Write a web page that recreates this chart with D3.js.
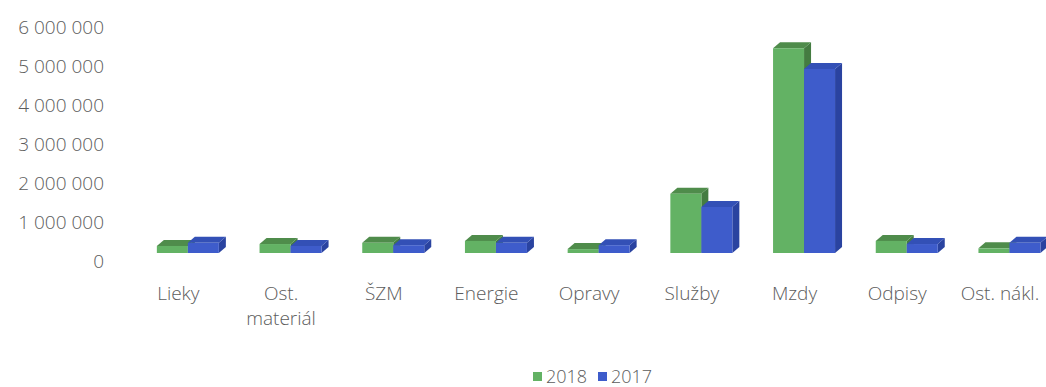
<!DOCTYPE html>
<html><head><meta charset="utf-8">
<script src="https://cdn.jsdelivr.net/npm/d3@7"></script>
<style>
body{margin:0;background:#fff;}
svg text{font-family:"Open Sans",sans-serif;font-weight:300;fill:#5c5c5c;}
</style>
</head><body>
<svg id="chart" width="1046" height="387"></svg>
<script>
const categories = ["Lieky", "Ost.\nmateriál", "ŠZM", "Energie", "Opravy", "Služby", "Mzdy", "Odpisy", "Ost. nákl."];
const seriesNames = ["2018", "2017"];
const values2018 = [180000, 230000, 260000, 310000, 100000, 1520000, 5250000, 310000, 120000];
const values2017 = [260000, 180000, 200000, 260000, 200000, 1180000, 4720000, 230000, 260000];
const yTickValues = [0, 1000000, 2000000, 3000000, 4000000, 5000000, 6000000];
const seriesColors = {
  "2018": {front: "#63b264", top: "#4f8c4b", side: "#447c41"},
  "2017": {front: "#3e5ccb", top: "#3350b6", side: "#2a43a0"}
};

const svg = d3.select("#chart");
const band = 102.7;
const x = d3.scaleBand().domain(categories).range([127, 127 + band * categories.length]).padding(0);
const xs = d3.scaleBand().domain(seriesNames).range([-31, 31]).padding(0);
const y = d3.scaleLinear().domain([0, 6000000]).range([261, 27]);

// 3D projection offsets
const front = {dx: 9.5, dy: -8};   // floor front -> bar front
const depth = {dx: 7, dy: -6};     // bar front -> bar back

// Y axis
const yAxis = d3.axisLeft(y).tickValues(yTickValues).tickSize(0).tickPadding(0)
  .tickFormat(d => d3.format(",")(d).replace(/,/g, " "));
const gy = svg.append("g").attr("transform", "translate(104,0)").call(yAxis);
gy.select(".domain").remove();
gy.selectAll("text").style("font-size", "19px").attr("fill", "#5c5c5c").style("font-family", null);

// Bars
const data = [];
categories.forEach((c, i) => {
  data.push({cat: c, s: "2018", v: values2018[i]});
  data.push({cat: c, s: "2017", v: values2017[i]});
});
const w = xs.bandwidth();
const bars = svg.append("g").selectAll("g").data(data).join("g");
bars.each(function(d) {
  const g = d3.select(this);
  const x0 = x(d.cat) + x.bandwidth() / 2 + front.dx + xs(d.s);
  const yt = y(d.v) + front.dy;
  const yb = y(0) + front.dy;
  const col = seriesColors[d.s];
  g.append("polygon")
    .attr("points", [[x0 + w, yt], [x0 + w + depth.dx, yt + depth.dy], [x0 + w + depth.dx, yb + depth.dy], [x0 + w, yb]].map(p => p.join(",")).join(" "))
    .attr("fill", col.side);
  g.append("polygon")
    .attr("points", [[x0, yt], [x0 + w, yt], [x0 + w + depth.dx, yt + depth.dy], [x0 + depth.dx, yt + depth.dy]].map(p => p.join(",")).join(" "))
    .attr("fill", col.top);
  g.append("rect").attr("x", x0).attr("y", yt).attr("width", w).attr("height", yb - yt).attr("fill", col.front);
});

// Category labels
const gx = svg.append("g");
categories.forEach(c => {
  const lines = c.split("\n");
  const t = gx.append("text")
    .attr("x", x(c) + x.bandwidth() / 2)
    .attr("y", 300)
    .attr("text-anchor", "middle")
    .style("font-size", "19px");
  lines.forEach((l, k) => {
    t.append("tspan").attr("x", x(c) + x.bandwidth() / 2).attr("dy", k === 0 ? 0 : 25).text(l);
  });
});

// Legend
const legend = svg.append("g").attr("transform", "translate(0,376)");
const legendItems = [{name: "2018", x: 533}, {name: "2017", x: 598}];
legendItems.forEach(it => {
  legend.append("rect").attr("x", it.x).attr("y", -4).attr("width", 9).attr("height", 9).attr("fill", seriesColors[it.name].front);
  legend.append("text").attr("x", it.x + 13).attr("y", 6.5).style("font-size", "18px").text(it.name);
});
</script>
</body></html>
